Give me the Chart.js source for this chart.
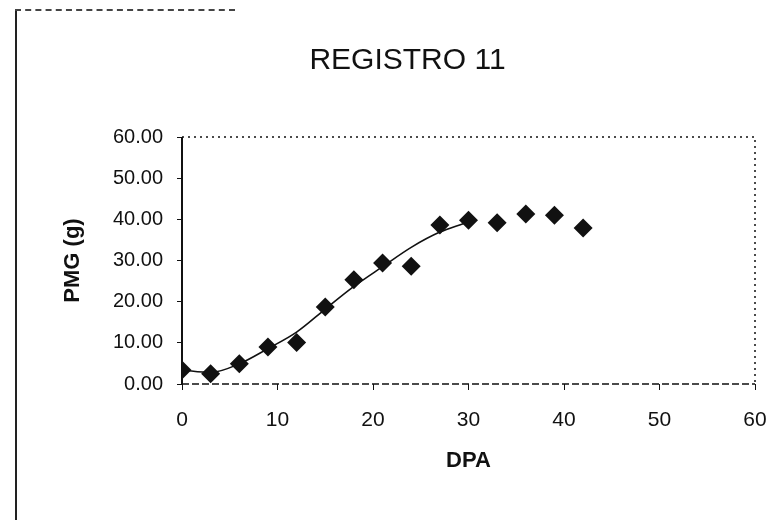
<!DOCTYPE html>
<html>
<head>
<meta charset="utf-8">
<title>REGISTRO 11</title>
<script src="https://cdn.jsdelivr.net/npm/chart.js@4.4.1/dist/chart.umd.min.js"></script>
<style>
  html, body { margin: 0; padding: 0; background: #fff; }
  #wrap { position: relative; width: 778px; height: 520px; }
  #chart { position: absolute; left: 0; top: 0; }
  /* scanned page frame */
  .frame-left { position: absolute; left: 15px; top: 9px; height: 511px; border-left: 2px solid #222; }
  .frame-top { position: absolute; left: 15px; top: 9px; width: 220px; border-top: 2px dashed #444; }
</style>
</head>
<body>
<div id="wrap">
  <canvas id="chart" width="778" height="520"></canvas>
  <div class="frame-left"></div>
  <div class="frame-top"></div>
</div>
<script>
// Measured grain weight (PMG) by days after anthesis (DPA)
const dpa = [0, 3, 6, 9, 12, 15, 18, 21, 24, 27, 30, 33, 36, 39, 42];
const pmg = [3.4, 2.5, 4.9, 9.0, 10.1, 18.7, 25.3, 29.4, 28.6, 38.6, 39.8, 39.2, 41.3, 41.0, 37.9];

// Fitted curve
const fitDpa = [0, 3, 6, 9, 12, 15, 18, 21, 24, 27, 29.5];
const fitPmg = [3.4, 2.8, 4.9, 8.6, 12.6, 18.2, 23.7, 28.5, 33.2, 36.9, 39.0];

const xTicks = [0, 10, 20, 30, 40, 50, 60];
const yTicks = [0, 10, 20, 30, 40, 50, 60];

const ink = '#111';
const font = 'Liberation Sans, Arial, sans-serif';

// Plot frame: solid left, dashed bottom, dotted top and right
const framePlugin = {
    id: 'frame',
    afterDraw(chart) {
        const { ctx, chartArea: a } = chart;
        ctx.save();
        ctx.strokeStyle = ink;

        ctx.lineWidth = 2;
        ctx.setLineDash([]);
        ctx.beginPath();
        ctx.moveTo(a.left, a.top);
        ctx.lineTo(a.left, a.bottom);
        ctx.stroke();

        ctx.lineWidth = 1.5;
        ctx.setLineDash([7, 3]);
        ctx.beginPath();
        ctx.moveTo(a.left, a.bottom);
        ctx.lineTo(a.right, a.bottom);
        ctx.stroke();

        ctx.setLineDash([2, 4]);
        ctx.beginPath();
        ctx.moveTo(a.left, a.top);
        ctx.lineTo(a.right, a.top);
        ctx.lineTo(a.right, a.bottom);
        ctx.stroke();
        ctx.restore();
    }
};

new Chart(document.getElementById('chart'), {
    type: 'scatter',
    data: {
        datasets: [
            {
                label: 'PMG',
                data: dpa.map((x, i) => ({ x, y: pmg[i] })),
                pointStyle: 'rectRot',
                pointRadius: 9.5,
                backgroundColor: ink,
                borderColor: ink,
                borderWidth: 0,
                order: 1
            },
            {
                type: 'line',
                label: 'Ajuste',
                data: fitDpa.map((x, i) => ({ x, y: fitPmg[i] })),
                borderColor: ink,
                borderWidth: 1.6,
                pointRadius: 0,
                cubicInterpolationMode: 'monotone',
                fill: false,
                order: 2
            }
        ]
    },
    options: {
        responsive: false,
        animation: false,
        layout: { padding: { left: 60, right: 23, top: 0, bottom: 46 } },
        plugins: {
            legend: { display: false },
            tooltip: { enabled: false },
            title: {
                display: true,
                text: 'REGISTRO 11',
                color: ink,
                font: { family: font, size: 30, weight: 'normal' },
                padding: { top: 43, bottom: 58 }
            }
        },
        scales: {
            x: {
                type: 'linear',
                min: 0,
                max: 60,
                afterBuildTicks: s => { s.ticks = xTicks.map(v => ({ value: v })); },
                afterFit: s => {
                    s.height = 90;
                    s.paddingLeft = 0;
                    s.paddingRight = 0;
                },
                grid: { drawOnChartArea: false, tickLength: 6, color: ink },
                border: { display: false },
                ticks: {
                    color: ink,
                    padding: 18,
                    font: { family: font, size: 21 }
                },
                title: {
                    display: true,
                    text: 'DPA',
                    color: ink,
                    padding: 0,
                    font: { family: font, size: 22, weight: 'bold' }
                }
            },
            y: {
                min: 0,
                max: 60,
                afterBuildTicks: s => { s.ticks = yTicks.map(v => ({ value: v })); },
                afterFit: s => { s.width = 122; },
                grid: { drawOnChartArea: false, tickLength: 5, color: ink },
                border: { display: false },
                ticks: {
                    color: ink,
                    padding: 14,
                    font: { family: font, size: 20 },
                    callback: v => v.toFixed(2)
                },
                title: {
                    display: true,
                    text: 'PMG (g)',
                    color: ink,
                    padding: 0,
                    font: { family: font, size: 22, weight: 'bold' }
                }
            }
        }
    },
    plugins: [framePlugin]
});
</script>
</body>
</html>
